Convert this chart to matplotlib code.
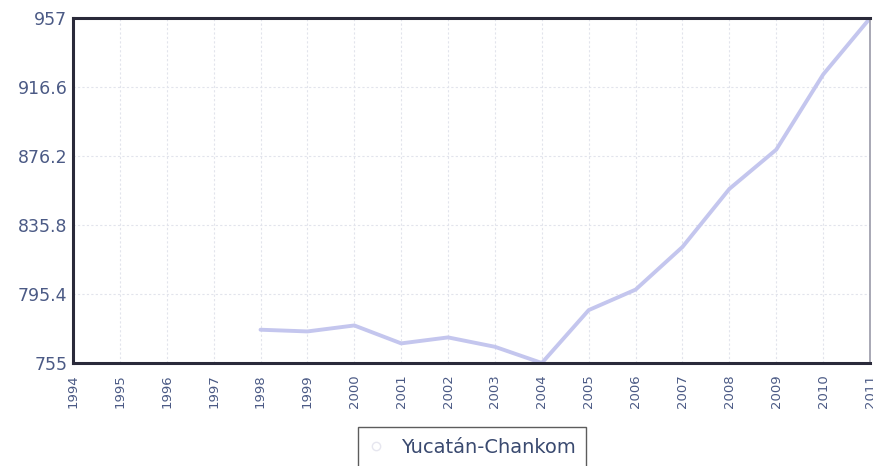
import matplotlib.pyplot as plt
from matplotlib.lines import Line2D

# Data
years = list(range(1994, 2012))
series_years = [1998, 1999, 2000, 2001, 2002, 2003, 2004, 2005, 2006, 2007, 2008, 2009, 2010, 2011]
values = [774.5, 773.5, 777, 766.5, 770, 764.5, 755, 786, 798, 823, 857, 880, 924, 957]
y_ticks = [755, 795.4, 835.8, 876.2, 916.6, 957]
y_labels = ["755", "795.4", "835.8", "876.2", "916.6", "957"]
series_name = "Yucatán-Chankom"

line_color = "#c4c6ee"
text_color = "#4b5a85"

fig = plt.figure(figsize=(8.73, 4.66), dpi=100)
ax = fig.add_axes([0.0836, 0.221, 0.9130, 0.740])

ax.plot(series_years, values, color=line_color, linewidth=2.8, solid_capstyle="round")

ax.set_xlim(1994, 2011)
ax.set_ylim(755, 957)
ax.set_xticks(years)
ax.set_xticklabels([str(y) for y in years], rotation=90, fontsize=9.5, color=text_color)
ax.set_yticks(y_ticks)
ax.set_yticklabels(y_labels, fontsize=12.5, color=text_color)
ax.tick_params(axis="y", length=0, pad=4)
ax.tick_params(axis="x", length=0, pad=8)

ax.grid(True, color="#e2e4ec", linestyle=(0, (2, 2)), linewidth=0.8)
ax.set_axisbelow(True)

for side in ["top", "bottom", "left"]:
    ax.spines[side].set_color("#2a2a3a")
    ax.spines[side].set_linewidth(2.2)
ax.spines["right"].set_color("#9a9aa8")
ax.spines["right"].set_linewidth(1.2)

handle = Line2D([], [], marker="o", linestyle="none", markersize=6,
                markerfacecolor="white", markeredgecolor="#e6e6ef")
fig.legend(handles=[handle], labels=[series_name], loc="upper left",
           bbox_to_anchor=(358 / 873, 1 - 427 / 466), frameon=True, fancybox=False,
           edgecolor="#333333", fontsize=14, labelcolor="#3a4a70",
           handlelength=0.8, handletextpad=0.85, borderpad=0.55, borderaxespad=0)

fig.savefig("out.png", dpi=100, facecolor="white")
